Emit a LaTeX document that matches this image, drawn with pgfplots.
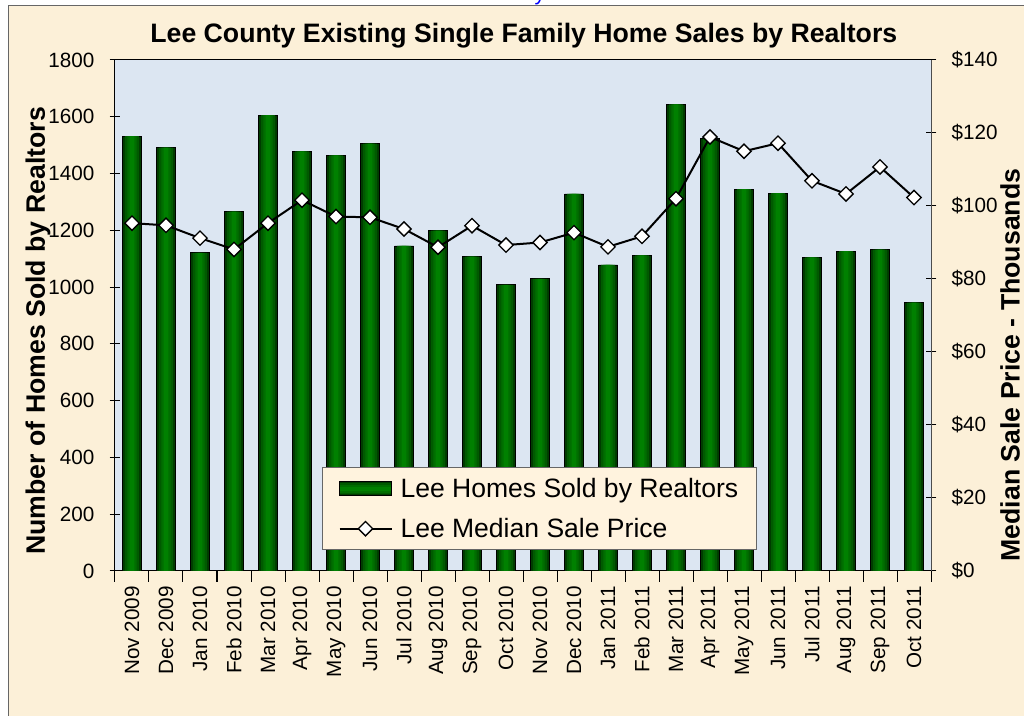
\documentclass[border=0pt]{standalone}
\usepackage{pgfplots}
\pgfplotsset{compat=1.18}
\usepackage{fontspec}
\setmainfont{Liberation Sans}
\definecolor{parch}{RGB}{252,240,216}
\definecolor{plotbg}{RGB}{220,230,242}
\definecolor{legbg}{RGB}{255,243,222}
\definecolor{barA}{RGB}{0,60,0}
\definecolor{barB}{RGB}{0,90,0}
\definecolor{barC}{RGB}{0,110,0}
\definecolor{barD}{RGB}{0,128,0}
\pgfplotstableread{
x y
0 1532
1 1491
2 1121
3 1266
4 1606
5 1478
6 1464
7 1505
8 1145
9 1199
10 1107
11 1008
12 1029
13 1328
14 1078
15 1112
16 1644
17 1524
18 1345
19 1331
20 1105
21 1127
22 1132
23 945
}\homes
\pgfplotstableread{
x y
0 95.3
1 94.7
2 91.2
3 88.1
4 95.3
5 101.6
6 97.1
7 96.9
8 93.7
9 88.7
10 94.6
11 89.3
12 90.0
13 92.7
14 88.8
15 91.7
16 102.0
17 118.9
18 115.0
19 117.2
20 106.9
21 103.3
22 110.7
23 102.3
}\price
\pgfplotsset{
  common/.style={
    scale only axis, width=612pt, height=383.25pt,
    at={(0pt,0pt)}, anchor=south west,
    xmin=-0.5, xmax=23.5,
    tick align=center, major tick length=8pt, minor tick length=8pt,
    tick style={black, line width=0.75pt},
    /pgf/number format/assume math mode=true,
    tick label style={font=\fontsize{15.5}{18}\selectfont},
  },
  lineleg/.style={legend image code/.code={
    \draw[mark repeat=2, mark phase=2, ##1] plot coordinates {(0pt,0pt) (19.5pt,0pt) (39pt,0pt)};
    \path (43pt,0pt);}},
  barleg/.style={legend image code/.code={
    \fill[barA] (0pt,-5.25pt) rectangle (39pt,5.25pt);
    \fill[barB] (0pt,-3.8pt) rectangle (39pt,3.8pt);
    \fill[barC] (0pt,-2.5pt) rectangle (39pt,2.5pt);
    \fill[barD] (0pt,-1.2pt) rectangle (39pt,1.2pt);
    \draw[black, line width=0.6pt] (0pt,-5.25pt) rectangle (39pt,5.25pt);
    \path (43pt,0pt);}},
}
\begin{document}
\begin{tikzpicture}
\clip (-86.25pt,-108.75pt) rectangle (681.75pt,428.25pt);
\fill[white] (-86.25pt,-108.75pt) rectangle (681.75pt,428.25pt);
\filldraw[fill=parch, draw=black!60, line width=0.75pt] (-79.5pt,423.75pt) rectangle (700pt,-120pt);
\node[text=blue, font=\fontsize{16}{18}\selectfont, anchor=base] at (318.75pt,428pt) {y};

\begin{axis}[common,
  ymin=0, ymax=1800, ytick={0,200,...,1800}, ytick pos=left,
  scaled y ticks=false,
  yticklabel style={/pgf/number format/1000 sep={}, xshift=-8pt},
  xtick={0,...,23},
  xticklabels={Nov 2009,Dec 2009,Jan 2010,Feb 2010,Mar 2010,Apr 2010,May 2010,Jun 2010,Jul 2010,Aug 2010,Sep 2010,Oct 2010,Nov 2010,Dec 2010,Jan 2011,Feb 2011,Mar 2011,Apr 2011,May 2011,Jun 2011,Jul 2011,Aug 2011,Sep 2011,Oct 2011},
  xtick pos=bottom,
  major x tick style={draw=none},
  minor xtick={-0.5,0.5,...,23.5},
  xticklabel style={rotate=90, anchor=east},
  axis background/.style={fill=plotbg},
  axis line style={black, line width=0.75pt},
  ylabel={Number of Homes Sold by Realtors},
  ylabel style={at={(axis description cs:-0.0944,0.47)}, anchor=center, rotate=0, font=\bfseries\fontsize{20}{24}\selectfont},
  title={Lee County Existing Single Family Home Sales by Realtors},
  title style={at={(axis description cs:0.501,1.0315)}, anchor=center, font=\bfseries\fontsize{20}{24}\selectfont},
  ybar, bar shift=0pt,
]
\addplot[ybar, bar width=14.25pt, bar shift=0pt, draw=black, line width=0.6pt, fill=barA] table[x=x,y=y] {\homes};
\addplot[ybar, bar width=10.5pt, bar shift=0pt, draw=none, fill=barB] table[x=x,y=y] {\homes};
\addplot[ybar, bar width=7pt, bar shift=0pt, draw=none, fill=barC] table[x=x,y=y] {\homes};
\addplot[ybar, bar width=3.5pt, bar shift=0pt, draw=none, fill=barD] table[x=x,y=y] {\homes};
\end{axis}

\begin{axis}[common,
  ymin=0, ymax=140, ytick={0,20,...,140},
  yticklabels={\$0,\$20,\$40,\$60,\$80,\$100,\$120,\$140},
  yticklabel style={xshift=8pt},
  axis y line*=right, axis x line=none,
  axis line style={black!70, line width=0.75pt},
  ylabel={Median Sale Price - Thousands},
  ylabel style={at={(axis description cs:1.0968,0.403)}, anchor=center, rotate=0, font=\bfseries\fontsize{20}{24}\selectfont},
  legend style={at={(axis description cs:0.2537,0.2035)}, anchor=north west,
    fill=legbg, draw=black!60, line width=0.75pt,
    font=\fontsize{19.9}{23}\selectfont, row sep=10pt, inner xsep=12pt, inner ysep=6pt},
  legend cell align=left,
]
\addlegendimage{barleg}
\addlegendentry{Lee Homes Sold by Realtors}
\addplot[black, line width=1.5pt, mark=square*, mark size=3.8pt,
  mark options={rotate=45, fill=white, draw=black, line width=1pt}, lineleg]
table[x=x,y=y] {\price};
\addlegendentry{Lee Median Sale Price}
\end{axis}
\end{tikzpicture}
\end{document}
